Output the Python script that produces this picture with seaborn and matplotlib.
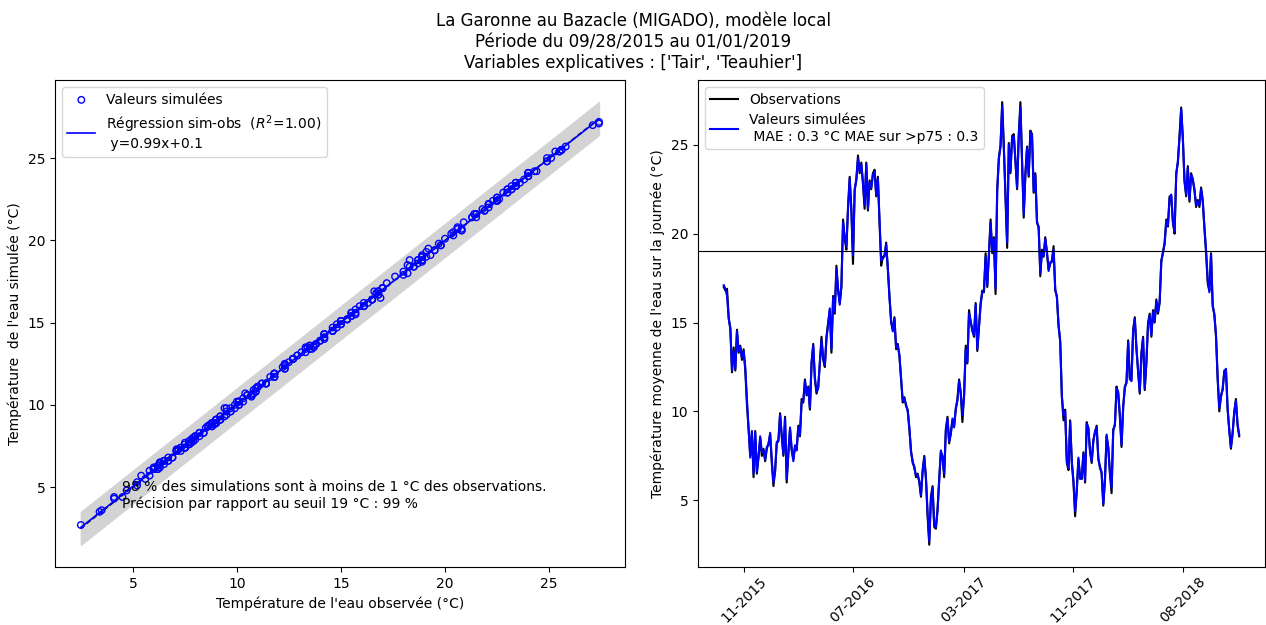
import numpy as np
import pandas as pd
import matplotlib
matplotlib.use("Agg")
import matplotlib.pyplot as plt
import seaborn as sns

obs = [17.0, 16.8, 16.9, 15.3, 14.6, 12.2, 13.6, 12.3, 14.6, 13.3, 13.7, 12.9, 13.5, 12.3, 10.4, 9.0, 7.5, 8.8, 6.3, 8.9,
       6.5, 7.5, 8.5, 7.5, 7.9, 7.2, 7.9, 8.2, 8.7, 7.1, 5.8, 6.7, 8.2, 8.4, 9.9, 8.6, 7.5, 9.7, 6.0, 7.7,
       9.0, 7.8, 7.3, 8.0, 7.9, 9.2, 8.6, 10.7, 10.5, 11.8, 10.9, 11.4, 10.1, 12.7, 13.8, 11.8, 11.0, 11.4, 12.7, 14.2,
       12.9, 12.5, 14.2, 15.0, 15.7,
       13.3, 16.5, 15.5, 18.2, 16.8, 16.1, 17.0, 20.8, 19.7, 19.1, 21.5, 23.2, 21.3, 18.3, 22.5, 23.0, 24.4, 23.4, 24.0, 22.8,
       21.4, 24.0, 21.3, 23.0, 22.5, 23.4, 23.6, 22.1, 23.2, 20.6, 18.2, 18.7, 18.7, 19.5, 18.0, 16.5, 15.0, 14.6, 15.3, 13.5,
       13.8, 13.1, 11.8, 10.5, 10.8, 10.3, 10.1, 9.0, 7.8, 7.1, 6.9, 6.3, 6.5, 6.0, 5.2, 6.7, 7.5, 6.2, 4.1, 2.5,
       5.2, 5.8, 3.5, 3.4, 4.5, 6.2,
       7.7, 7.5, 6.3, 9.0, 9.7, 8.2, 8.8, 9.5, 9.2, 10.1, 10.7, 11.8, 11.0, 9.4, 10.9, 13.7, 12.7, 15.7, 15.0, 14.6,
       14.2, 16.1, 13.4, 14.8, 16.1, 16.8, 16.7, 18.9, 17.0, 18.9, 20.8, 18.9, 19.8, 16.6, 22.5, 24.3, 24.9, 27.4, 24.9, 22.1,
       19.2, 25.1, 23.4, 25.5, 25.6, 24.0, 22.5, 25.6, 27.4, 24.0, 20.9, 23.4, 24.9, 23.2, 25.8, 25.6, 22.3, 23.4, 20.6, 20.4,
       17.6, 19.1, 18.7, 19.8, 18.9, 18.0,
       18.3, 18.5, 19.3, 16.8, 16.5, 14.8, 14.0, 10.8, 9.5, 10.1, 7.1, 6.7, 9.5, 7.1, 6.0, 4.1, 5.6, 7.3, 6.3, 6.2,
       7.7, 6.0, 9.4, 9.0, 7.8, 7.1, 8.4, 8.8, 9.2, 7.3, 6.9, 6.5, 4.7, 6.2, 8.6, 8.0, 6.5, 5.4, 9.0, 9.2,
       11.4, 11.0, 9.7, 8.0, 10.3, 11.4, 11.6, 14.0, 11.8, 11.8, 14.6, 15.3, 13.5, 12.3, 11.0, 13.3, 14.2, 11.2, 12.7, 15.0,
       15.5, 14.2, 15.7, 15.0, 16.3, 15.5,
       16.1, 18.5, 18.9, 19.5, 20.8, 20.4, 22.1, 22.1, 20.6, 20.0, 23.4, 24.0, 25.5, 27.1, 25.3, 23.0, 22.1, 23.8, 21.8, 23.4,
       23.0, 22.5, 21.5, 21.9, 21.5, 22.6, 21.9, 20.3, 18.9, 17.2, 16.8, 18.9, 15.9, 15.5, 14.2, 11.8, 10.0, 10.9, 11.2, 12.3,
       12.3, 10.1, 9.0, 7.9, 8.8, 9.9, 10.7, 9.2, 8.6]

sim = [17.1, 16.9, 16.5, 15.2, 14.7, 12.3, 13.4, 12.4, 14.5, 13.4, 13.6, 13.0, 13.4, 12.5, 10.7, 9.1, 7.4, 8.9, 6.5, 8.8,
       6.6, 7.4, 8.6, 7.7, 7.8, 7.3, 8.0, 8.1, 8.8, 7.3, 6.0, 6.6, 8.3, 8.3, 9.8, 8.7, 7.6, 9.6, 6.2, 7.6,
       9.1, 7.9, 7.2, 8.1, 7.8, 9.1, 8.7, 10.5, 10.6, 11.7, 11.0, 11.3, 10.2, 12.8, 13.7, 11.9, 11.1, 11.3, 12.8, 14.0,
       13.0, 12.6, 14.1, 14.9, 15.8,
       13.5, 16.4, 15.6, 18.0, 16.9, 16.0, 17.1, 20.6, 19.8, 19.3, 21.4, 23.1, 21.4, 18.8, 22.4, 23.1, 24.2, 23.5, 23.9, 22.9,
       21.6, 23.9, 21.4, 22.9, 22.6, 23.3, 23.5, 22.2, 23.1, 20.8, 18.5, 18.6, 18.8, 19.4, 18.1, 16.4, 15.1, 14.5, 15.2, 13.6,
       13.7, 13.2, 11.9, 10.6, 10.7, 10.4, 10.0, 9.1, 7.7, 7.2, 6.8, 6.4, 6.4, 6.1, 5.3, 6.6, 7.4, 6.3, 4.3, 2.7,
       5.1, 5.7, 3.6, 3.5, 4.4, 6.1,
       7.8, 7.4, 6.5, 8.9, 9.6, 8.3, 8.7, 9.6, 9.1, 10.2, 10.6, 11.7, 11.1, 9.8, 10.8, 13.5, 12.8, 15.5, 15.1, 14.5,
       14.3, 16.0, 13.5, 14.7, 16.0, 16.7, 16.8, 18.7, 17.1, 18.8, 20.6, 19.0, 19.7, 16.9, 22.4, 24.2, 25.0, 27.2, 24.8, 22.2,
       19.5, 25.0, 23.5, 25.4, 25.5, 24.1, 22.6, 25.5, 27.1, 24.1, 21.1, 23.3, 24.8, 23.3, 25.7, 25.5, 22.4, 23.3, 20.7, 20.3,
       17.8, 19.0, 18.8, 19.7, 19.0, 17.9,
       18.4, 18.4, 19.1, 16.9, 16.4, 14.9, 13.9, 10.9, 9.8, 10.0, 7.2, 6.8, 9.4, 7.2, 6.1, 4.4, 5.5, 7.4, 6.2, 6.3,
       7.6, 6.1, 9.3, 9.1, 7.7, 7.2, 8.3, 8.9, 9.1, 7.4, 6.8, 6.6, 4.8, 6.1, 8.7, 7.9, 6.6, 5.7, 8.9, 9.3,
       11.3, 11.1, 9.8, 8.1, 10.2, 11.3, 11.7, 13.9, 11.9, 11.7, 14.5, 15.2, 13.6, 12.2, 11.1, 13.2, 14.1, 11.3, 12.8, 14.9,
       15.4, 14.3, 15.6, 15.1, 16.2, 15.6,
       16.2, 18.4, 19.0, 19.4, 20.7, 20.5, 22.0, 22.2, 20.7, 20.1, 23.3, 24.1, 25.4, 27.0, 25.4, 22.9, 22.2, 23.7, 21.9, 23.3,
       23.1, 22.4, 21.6, 21.8, 21.6, 22.5, 21.8, 20.4, 19.1, 17.4, 16.7, 18.8, 16.0, 15.4, 14.3, 11.9, 10.2, 10.8, 11.3, 12.2,
       12.4, 10.2, 8.9, 8.0, 8.7, 10.0, 10.6, 9.3, 8.7]

mois_ticks = ["11-2015", "07-2016", "03-2017", "11-2017", "08-2018"]
pos_ticks = [12, 78, 145, 211, 277]
seuil = 19

df = pd.DataFrame({"jour": np.arange(len(obs)), "obs": obs, "sim": sim})

fig = plt.figure(figsize=(12.66, 6.25), dpi=100)
ax1 = fig.add_axes([0.0434, 0.093, 0.4502, 0.779])
ax2 = fig.add_axes([0.5513, 0.093, 0.4479, 0.779])

# --- nuage sim / obs
o = df["obs"].to_numpy()
a, b = np.polyfit(df["obs"], df["sim"], 1)
xb = np.array([o.min(), o.max()])
ax1.fill_between(xb, xb - 1, xb + 1, color="lightgray", zorder=1)
ax1.plot(xb, xb, "k--", lw=1, zorder=2)
sns.scatterplot(data=df, x="obs", y="sim", ax=ax1, marker="o", s=22, facecolor="none",
                edgecolor="blue", linewidth=1, label="Valeurs simulées", zorder=3)
ax1.plot(xb, a * xb + b, color="blue", lw=1.2, zorder=4,
         label="Régression sim-obs  ($R^2$=1.00)\n y=0.99x+0.1")
ax1.text(4.5, 4.5, "98 % des simulations sont à moins de 1 °C des observations.\n"
         "Précision par rapport au seuil 19 °C : 99 %", va="center", fontsize=10)
ax1.set_xlabel("Température de l'eau observée (°C)")
ax1.set_ylabel("Température  de l'eau simulée (°C)")
ax1.legend(loc="upper left")

# --- série temporelle
sns.lineplot(data=df, x="jour", y="obs", ax=ax2, color="black", label="Observations")
sns.lineplot(data=df, x="jour", y="sim", ax=ax2, color="blue",
             label="Valeurs simulées\n MAE : 0.3 °C MAE sur >p75 : 0.3")
ax2.axhline(seuil, color="black", lw=0.8)
ax2.set_xticks(pos_ticks)
ax2.set_xticklabels(mois_ticks, rotation=45)
ax2.tick_params(axis="x", pad=2)
ax2.set_xlabel("")
ax2.set_ylabel("Température moyenne de l'eau sur la journée (°C)")
ax2.legend(loc="upper left")

fig.suptitle("La Garonne au Bazacle (MIGADO), modèle local\nPériode du 09/28/2015 au 01/01/2019\n"
             "Variables explicatives : ['Tair', 'Teauhier']")

fig.savefig("out.png", dpi=100)
